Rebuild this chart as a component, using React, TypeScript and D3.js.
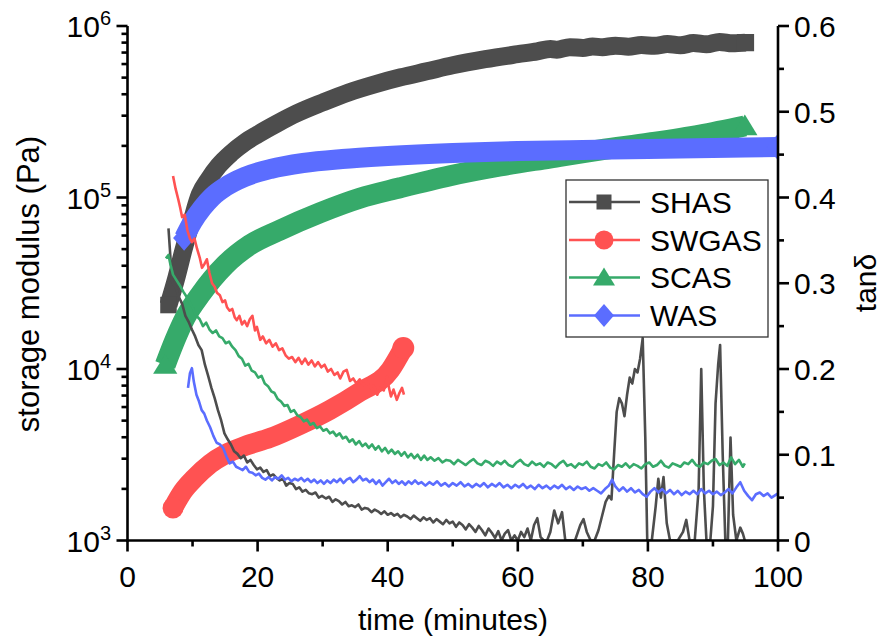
import React from 'react';
import * as d3 from 'd3';

const W = 883;
const H = 639;

// ---------- data ----------
const seriesNames = ['SHAS', 'SWGAS', 'SCAS', 'WAS'];
const seriesColors = ['#4d4d4d', '#ff5252', '#36aa6a', '#5b6dff'];

const xTicks = [0, 20, 40, 60, 80, 100];
const xMinor = [10, 30, 50, 70, 90];
const rightTicks = [0, 0.1, 0.2, 0.3, 0.4, 0.5, 0.6];
const leftDecades = [3, 4, 5, 6];

// storage modulus G' (Pa): [time (min), G']
const shasG: [number, number][] = [
  [6.3, 23600], [7.5, 33900], [8.6, 49400], [9.9, 73900], [11.1, 104000], [12.5, 128000],
  [14, 153000], [16, 182000], [18, 209000], [20, 233000], [23, 270000], [26, 309000],
  [30, 358000], [34, 410000], [38, 457000], [42, 502000], [46, 544000], [50, 590000],
  [55, 640000], [60, 685000], [63, 712000], [65, 735000], [66, 728000], [68, 752000],
  [70, 745000], [71.5, 760000], [73, 752000], [75, 768000], [77, 758000], [79, 774000],
  [81, 766000], [83, 785000], [85, 772000], [87, 795000], [89, 782000], [91, 808000],
  [93, 792000], [95, 800000],
];
const swgasG: [number, number][] = [
  [7.0, 1547], [8.5, 1930], [10.3, 2310], [12.7, 2800], [15.0, 3180], [18.1, 3560],
  [21.9, 3960], [26.5, 4716], [31.1, 5768], [35.7, 7342], [40.4, 9867], [42.4, 13260],
];
const scasG: [number, number][] = [
  [5.8, 10550], [7.3, 14760], [8.84, 19840], [11.15, 27010], [15.0, 40410], [18.8, 52840],
  [23.4, 64500], [29.6, 81500], [35.7, 99000], [41.9, 114000], [49.6, 134000], [57.3, 152600],
  [64.9, 169900], [72.6, 189200], [80.3, 207900], [88.0, 231400], [94.9, 261200],
];
const wasG: [number, number][] = [
  [8.7, 58000], [10, 72000], [11.5, 86900], [13, 100700], [15, 115100], [18, 131700],
  [22, 146700], [27, 158900], [33, 167600], [40, 174500], [50, 181700], [60, 186500],
  [70, 189200], [80, 191800], [90, 194400], [100, 197000],
];

// loss tangent tan(delta): [time (min), tan]
const shasTan: [number, number][] = [
  [6.3, .364], [6.6, .33], [6.9, .300], [7.4, .296], [7.9, .284], [8.4, .276], [8.9, .262], [9.4, .255],
  [9.9, .246], [10.4, .238], [10.9, .228], [11.4, .222], [11.9, .205], [12.4, .192], [12.9, .178],
  [13.4, .166], [13.9, .152], [14.4, .140], [14.9, .125], [15.4, .118], [15.9, .112], [16.4, .104],
  [16.9, .101], [17.4, .096], [17.9, .099], [18.4, .091], [18.9, .094], [19.4, .088], [19.9, .083],
  [20.4, .085], [20.9, .080], [21.4, .082], [21.9, .075], [22.4, .077], [22.9, .073], [23.4, .070],
  [23.9, .072], [24.4, .064], [24.9, .067], [25.4, .066], [25.9, .060], [26.4, .062], [26.9, .057],
  [27.4, .059], [27.9, .055], [28.4, .054], [28.9, .056], [29.4, .050], [29.9, .052], [30.5, .049],
  [31, .051], [31.5, .045], [32, .048], [32.5, .046], [33, .042], [33.5, .045], [34, .040], [34.5, .041],
  [35, .039], [35.5, .042], [36, .036], [36.5, .038], [37, .037], [37.5, .033], [38, .036], [38.5, .034],
  [39, .031], [39.5, .034], [40, .030], [40.5, .032], [41, .029], [41.5, .031], [42, .027], [42.5, .030],
  [43, .028], [43.5, .025], [44, .029], [44.5, .026], [45, .023], [45.5, .027], [46, .024], [46.5, .026],
  [47, .021], [47.5, .025], [48, .022], [48.5, .019], [49, .024], [49.5, .020], [50, .022], [50.5, .016],
  [51, .021], [51.5, .018], [52, .013], [52.5, .019], [53, .015], [53.5, .010], [54, .017], [54.5, .012],
  [55, .006], [55.5, .014], [56, .009], [56.5, .003], [57, .011], [57.5, 0], [58, .008], [58.5, .012],
  [59, 0], [59.5, .006], [60, 0], [60.5, .010], [61, .004], [61.5, .014], [62, 0], [62.5, .018],
  [63, .026], [63.5, .004], [64, 0], [64.5, 0], [65, .010], [65.6, .035], [66.2, .020], [66.8, .033],
  [67.3, 0], [68, 0], [68.8, 0], [69.6, .018], [70.1, .025], [70.6, .010], [71.2, 0], [71.8, 0],
  [72.4, .012], [73, .030], [73.5, .045], [74, .052], [74.4, .048], [74.8, .100], [75.2, .150],
  [75.6, .166], [76, .160], [76.4, .145], [76.8, .170], [77.2, .190], [77.6, .183], [78, .200],
  [78.4, .196], [78.8, .212], [79.2, .236], [79.6, .120], [79.9, 0], [80.6, 0], [81.2, .040],
  [81.6, .072], [82, .050], [82.4, .074], [82.9, .020], [83.4, 0], [84, 0], [84.6, 0], [85.4, .010],
  [85.9, .024], [86.4, 0], [87.2, 0], [87.8, .060], [88.2, .200], [88.6, .060], [89, 0], [89.6, 0],
  [90, .040], [90.4, .160], [90.8, .205], [91.1, .228], [91.5, .100], [91.9, 0], [92.3, 0],
  [92.7, .120], [93.1, .030], [93.6, 0], [94.2, .015], [94.6, .008], [94.9, 0],
];
const swgasTan: [number, number][] = [
  [7.0, .425], [7.4, .410], [7.8, .398], [8.1, .388], [8.4, .377], [8.8, .380], [9.2, .362], [9.6, .352],
  [9.9, .348], [10.3, .352], [10.7, .340], [11.1, .330], [11.45, .318], [11.8, .322], [12.2, .328],
  [12.6, .312], [13.0, .300], [13.4, .296], [13.75, .289], [14.2, .286], [14.6, .278], [15.0, .280],
  [15.3, .272], [15.7, .268], [16.1, .270], [16.5, .260], [16.8, .257], [17.2, .262], [17.6, .252],
  [18.0, .256], [18.4, .250], [18.8, .258], [19.2, .262], [19.6, .245], [19.9, .249], [20.4, .234],
  [20.8, .238], [21.3, .230], [21.8, .234], [22.3, .226], [22.8, .230], [23.3, .222], [23.8, .224],
  [24.3, .216], [24.8, .212], [25.3, .214], [25.8, .208], [26.3, .213], [26.8, .206], [27.3, .212],
  [27.8, .205], [28.3, .210], [28.8, .203], [29.3, .208], [29.8, .202], [30.3, .205], [30.8, .197],
  [31.3, .200], [31.8, .193], [32.3, .196], [32.7, .189], [33.2, .197], [33.7, .199], [34.2, .186],
  [34.7, .189], [35.2, .183], [35.7, .188], [36.2, .181], [36.8, .185], [37.3, .178], [37.8, .181],
  [38.4, .170], [38.9, .178], [39.4, .175], [39.9, .191], [40.2, .178], [40.5, .168], [40.9, .176],
  [41.4, .164], [41.8, .172], [42.2, .178], [42.5, .170],
];
const scasTan: [number, number][] = [
  [5.9, .329], [6.3, .333], [6.6, .322], [7.0, .310], [7.5, .304], [8.0, .298], [8.6, .290], [9.1, .284],
  [9.6, .277], [10.1, .270], [10.6, .262], [11.1, .258], [11.6, .250], [12.1, .254], [12.6, .246],
  [13.1, .242], [13.6, .245], [14.1, .238], [14.6, .236], [15.1, .230], [15.6, .232], [16.1, .226],
  [16.6, .222], [17.1, .215], [17.6, .212], [18.1, .204], [18.6, .206], [19.1, .198], [19.6, .196],
  [20.1, .190], [20.6, .192], [21.1, .183], [21.6, .180], [22.1, .174], [22.6, .172], [23.1, .165],
  [23.6, .162], [24.1, .157], [24.6, .158], [25.1, .150], [25.6, .152], [26.1, .146], [26.6, .144],
  [27.1, .139], [27.6, .141], [28.1, .135], [28.6, .137], [29.1, .131], [29.6, .133], [30.1, .128],
  [30.6, .130], [31.1, .125], [31.6, .127], [32.1, .122], [32.6, .125], [33.1, .119], [33.6, .121],
  [34.1, .115], [34.6, .118], [35.1, .112], [35.6, .116], [36.1, .110], [36.6, .113], [37.1, .108],
  [37.6, .112], [38.1, .106], [38.6, .110], [39.1, .104], [39.6, .108], [40.1, .102], [40.6, .106],
  [41.1, .101], [41.6, .104], [42.1, .099], [42.6, .103], [43.1, .097], [43.6, .101], [44.1, .096],
  [44.6, .100], [45.1, .094], [45.6, .099], [46.1, .094], [46.6, .097], [47.2, .093], [47.8, .096],
  [48.4, .091], [49, .094], [49.6, .093], [50.2, .089], [50.8, .094], [51.4, .091], [52, .088],
  [52.6, .092], [53.2, .095], [53.8, .090], [54.4, .088], [55, .093], [55.6, .091], [56.2, .087],
  [56.8, .092], [57.4, .089], [58, .093], [58.6, .088], [59.2, .086], [59.8, .091], [60.4, .094],
  [61, .089], [61.6, .087], [62.2, .092], [62.8, .088], [63.4, .090], [64, .086], [64.6, .091],
  [65.2, .089], [65.8, .085], [66.4, .090], [67, .093], [67.6, .087], [68.2, .089], [68.8, .085],
  [69.4, .090], [70, .088], [70.6, .092], [71.2, .086], [71.8, .084], [72.4, .089], [73, .087],
  [73.6, .091], [74.2, .085], [74.8, .083], [75.4, .088], [76, .086], [76.6, .090], [77.2, .085],
  [77.8, .089], [78.4, .087], [79, .084], [79.6, .089], [80.2, .091], [80.8, .086], [81.4, .088],
  [82, .093], [82.6, .087], [83.2, .085], [83.8, .090], [84.4, .088], [85, .086], [85.6, .091],
  [86.2, .089], [86.8, .094], [87.4, .088], [88, .086], [88.6, .091], [89.2, .089], [89.8, .093],
  [90.4, .095], [91, .088], [91.6, .091], [92.2, .087], [92.8, .097], [93.4, .089], [94, .094],
  [94.6, .086], [94.9, .090],
];
const wasTan: [number, number][] = [
  [9.3, .178], [9.6, .195], [9.9, .201], [10.2, .185], [10.6, .170], [11.0, .162], [11.4, .152],
  [11.8, .148], [12.2, .140], [12.7, .132], [13.2, .122], [13.7, .114], [14.2, .112], [14.7, .108],
  [15.2, .098], [15.7, .090], [16.2, .092], [16.7, .086], [17.2, .084], [17.7, .082], [18.2, .086],
  [18.7, .080], [19.2, .079], [19.7, .076], [20.2, .078], [20.7, .073], [21.2, .071], [21.7, .074],
  [22.2, .070], [22.7, .074], [23.2, .072], [23.7, .076], [24.2, .071], [24.7, .073], [25.2, .069],
  [25.7, .072], [26.2, .070], [26.7, .073], [27.2, .069], [27.7, .072], [28.2, .068], [28.7, .071],
  [29.2, .067], [29.7, .070], [30.2, .066], [30.7, .070], [31.2, .067], [31.7, .071], [32.2, .068],
  [32.7, .072], [33.2, .067], [33.7, .071], [34.2, .073], [34.7, .068], [35.2, .071], [35.7, .075],
  [36.2, .070], [36.7, .072], [37.2, .068], [37.7, .071], [38.2, .066], [38.7, .070], [39.2, .064],
  [39.7, .068], [40.2, .072], [40.7, .067], [41.2, .070], [41.7, .066], [42.2, .069], [42.7, .065],
  [43.2, .069], [43.7, .066], [44.2, .070], [44.7, .066], [45.2, .068], [45.8, .064], [46.4, .068],
  [47, .065], [47.6, .069], [48.2, .064], [48.8, .067], [49.4, .063], [50, .067], [50.6, .064],
  [51.2, .068], [51.8, .063], [52.4, .066], [53, .062], [53.6, .066], [54.2, .063], [54.8, .067],
  [55.4, .062], [56, .066], [56.6, .063], [57.2, .067], [57.8, .062], [58.4, .065], [59, .061],
  [59.6, .065], [60.2, .062], [60.8, .066], [61.4, .061], [62, .064], [62.6, .060], [63.2, .065],
  [63.8, .061], [64.4, .064], [65, .060], [65.6, .064], [66.2, .061], [66.8, .065], [67.4, .060],
  [68, .063], [68.6, .059], [69.2, .063], [69.8, .060], [70.4, .062], [71, .058], [71.6, .061],
  [72.2, .058], [72.8, .055], [73.4, .060], [74, .064], [74.5, .071], [75, .063], [75.6, .058],
  [76.2, .062], [76.8, .057], [77.4, .061], [78, .056], [78.6, .059], [79.2, .054], [79.8, .051],
  [80.4, .057], [81, .061], [81.6, .056], [82.2, .060], [82.8, .055], [83.4, .059], [84, .054],
  [84.6, .058], [85.2, .053], [85.8, .057], [86.4, .054], [87, .058], [87.6, .054], [88.2, .060],
  [88.8, .055], [89.4, .058], [90, .054], [90.6, .057], [91.2, .053], [91.8, .056], [92.4, .060],
  [93, .055], [93.6, .062], [94.2, .068], [94.8, .058], [95.4, .052], [96, .047], [96.6, .054],
  [97.2, .056], [97.8, .052], [98.4, .055], [99, .050], [99.6, .053], [100, .055],
];

const gSeries = [shasG, swgasG, scasG, wasG];
const tanSeries = [shasTan, swgasTan, scasTan, wasTan];

// ---------- layout ----------
const X0 = 127.5, X1 = 778, Y0 = 540.5, Y1 = 26;
const FONT = '"Liberation Sans", Arial, Helvetica, sans-serif';
const bandWidth = [18, 20, 21, 20];

const x = d3.scaleLinear().domain([0, 100]).range([X0, X1]);
const yL = d3.scaleLog().domain([1e3, 1e6]).range([Y0, Y1]);
const yR = d3.scaleLinear().domain([0, 0.6]).range([Y0, Y1]);

function Marker({ kind, cx, cy, color, s = 1 }: { kind: number; cx: number; cy: number; color: string; s?: number }) {
  if (kind === 0) return <rect x={cx - 7.5 * s} y={cy - 7.5 * s} width={15 * s} height={15 * s} fill={color} />;
  if (kind === 1) return <circle cx={cx} cy={cy} r={9.5 * s} fill={color} />;
  if (kind === 2)
    return (
      <path d={`M${cx - 11 * s},${cy + 8 * s} L${cx + 11 * s},${cy + 8 * s} L${cx},${cy - 10 * s} Z`} fill={color} />
    );
  return (
    <path
      d={`M${cx},${cy - 11.5 * s} L${cx + 10 * s},${cy} L${cx},${cy + 11.5 * s} L${cx - 10 * s},${cy} Z`}
      fill={color}
    />
  );
}

export default function App() {
  const gLine = d3
    .line<[number, number]>()
    .x((d) => x(d[0]))
    .y((d) => yL(d[1]))
    .curve(d3.curveMonotoneX);
  const tLine = d3
    .line<[number, number]>()
    .x((d) => x(d[0]))
    .y((d) => yR(d[1]));

  const leftMinor: number[] = [];
  for (let d = 3; d < 6; d++) for (let m = 2; m <= 9; m++) leftMinor.push(m * Math.pow(10, d));
  const rightMinor = [0.05, 0.15, 0.25, 0.35, 0.45, 0.55];

  const legendRows = [202, 240, 277.5, 315.5];

  return (
    <svg
      width={W}
      height={H}
      style={{ position: 'absolute', left: 0, top: 0, background: '#fff' }}
      fontFamily={FONT}
    >
      <defs>
        <clipPath id="plot">
          <rect x={X0} y={Y1 - 20} width={X1 - X0} height={Y0 - Y1 + 20} />
        </clipPath>
      </defs>
      <rect width={W} height={H} fill="#fff" />

      {/* G' bands */}
      <g clipPath="url(#plot)">
        {gSeries.map((s, i) => (
          <g key={'g' + i}>
            <path
              d={gLine(s) || ''}
              fill="none"
              stroke={seriesColors[i]}
              strokeWidth={bandWidth[i]}
              strokeLinejoin="round"
            />
            <Marker kind={i} cx={x(s[0][0])} cy={yL(s[0][1])} color={seriesColors[i]} s={1.1} />
            <Marker kind={i} cx={x(s[s.length - 1][0])} cy={yL(s[s.length - 1][1])} color={seriesColors[i]} s={1.15} />
          </g>
        ))}
        {/* tan delta lines */}
        {tanSeries.map((s, i) => (
          <path
            key={'t' + i}
            d={tLine(s) || ''}
            fill="none"
            stroke={seriesColors[i]}
            strokeWidth={2.6}
            strokeLinejoin="round"
          />
        ))}
      </g>

      {/* axes */}
      <g stroke="#000" strokeWidth={2.6} fill="none">
        <line x1={X0} y1={Y1} x2={X0} y2={Y0 + 1.3} />
        <line x1={X1} y1={Y1} x2={X1} y2={Y0 + 1.3} />
        <line x1={X0 - 1.3} y1={Y0} x2={X1 + 1.3} y2={Y0} />
        {xTicks.map((t) => (
          <line key={'xt' + t} x1={x(t)} x2={x(t)} y1={Y0} y2={Y0 + 11} />
        ))}
        {xMinor.map((t) => (
          <line key={'xm' + t} x1={x(t)} x2={x(t)} y1={Y0} y2={Y0 + 6} />
        ))}
        {leftDecades.map((d) => (
          <line key={'ld' + d} x1={X0 - 11} x2={X0} y1={yL(Math.pow(10, d))} y2={yL(Math.pow(10, d))} />
        ))}
        {leftMinor.map((v) => (
          <line key={'lm' + v} x1={X0 - 6} x2={X0} y1={yL(v)} y2={yL(v)} />
        ))}
        {rightTicks.map((v) => (
          <line key={'rt' + v} x1={X1} x2={X1 + 11} y1={yR(v)} y2={yR(v)} />
        ))}
        {rightMinor.map((v) => (
          <line key={'rm' + v} x1={X1} x2={X1 + 6} y1={yR(v)} y2={yR(v)} />
        ))}
      </g>

      {/* tick labels */}
      <g fontSize={30} fill="#000">
        {xTicks.map((t) => (
          <text key={'xl' + t} x={x(t)} y={587} textAnchor="middle">
            {t}
          </text>
        ))}
        {leftDecades.map((d) => (
          <text key={'ll' + d} x={111} y={yL(Math.pow(10, d)) + 11} textAnchor="end">
            10
            <tspan fontSize={20} dy={-12}>
              {d}
            </tspan>
          </text>
        ))}
        {rightTicks.map((v) => (
          <text key={'rl' + v} x={794} y={yR(v) + 11} textAnchor="start">
            {v === 0 ? '0' : v.toFixed(1)}
          </text>
        ))}
      </g>

      {/* axis titles */}
      <g fontSize={31} fill="#000">
        <text x={453} y={630} textAnchor="middle" fontSize={30}>
          time (minutes)
        </text>
        <text transform="translate(39,284) rotate(-90)" textAnchor="middle">
          storage modulus (Pa)
        </text>
        <text transform="translate(876,283) rotate(-90)" textAnchor="middle" fontSize={30}>
          tanδ
        </text>
      </g>

      {/* legend */}
      <rect x={566} y={180} width={202} height={157} fill="#fff" stroke="#333" strokeWidth={1.3} />
      {seriesNames.map((n, i) => (
        <g key={'lg' + i}>
          <line x1={569} x2={640} y1={legendRows[i]} y2={legendRows[i]} stroke={seriesColors[i]} strokeWidth={2.6} />
          <Marker kind={i} cx={604} cy={legendRows[i]} color={seriesColors[i]} />
          <text x={650} y={legendRows[i] + 10.5} fontSize={30} fill="#000">
            {n}
          </text>
        </g>
      ))}
    </svg>
  );
}
